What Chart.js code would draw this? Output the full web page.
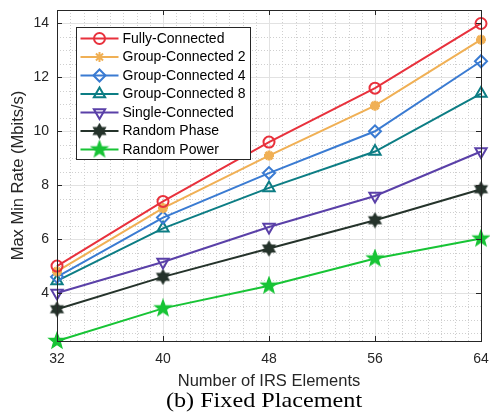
<!DOCTYPE html>
<html>
<head>
<meta charset="utf-8">
<script src="https://cdn.jsdelivr.net/npm/chart.js@4.4.1/dist/chart.umd.min.js"></script>
<style>
  html, body { margin: 0; padding: 0; background: #fff; }
  #wrap { width: 490px; height: 413px; }
</style>
</head>
<body>
<div id="wrap"><canvas id="chart"></canvas></div>
<script>
// data
const irsElements = [32, 40, 48, 56, 64];
const fullyConnected = [5.0, 7.4, 9.6, 11.6, 14.0];
const groupConnected2 = [4.8, 7.15, 9.1, 10.95, 13.4];
const groupConnected4 = [4.6, 6.8, 8.45, 10.0, 12.6];
const groupConnected8 = [4.45, 6.4, 7.9, 9.25, 11.4];
const singleConnected = [4.0, 5.15, 6.45, 7.6, 9.25];
const randomPhase = [3.4, 4.6, 5.65, 6.7, 7.85];
const randomPower = [2.22, 3.43, 4.27, 5.28, 6.02];

const xTicks = [32, 40, 48, 56, 64];
const yTicks = [4, 6, 8, 10, 12, 14];

const FONT = '"Liberation Sans", Arial, Helvetica, sans-serif';
const INK = '#262626';

// filled star markers (pentagram / hexagram) as little canvases
function starMarker(points, outer, innerRatio, color) {
  const size = Math.ceil(outer * 2 + 3);
  const c = document.createElement('canvas');
  c.width = c.height = size;
  const g = c.getContext('2d');
  g.translate(size / 2, size / 2);
  g.beginPath();
  for (let i = 0; i < points * 2; i++) {
    const r = i % 2 ? outer * innerRatio : outer;
    const a = -Math.PI / 2 + i * Math.PI / points;
    g.lineTo(r * Math.cos(a), r * Math.sin(a));
  }
  g.closePath();
  g.fillStyle = color;
  g.fill();
  g.strokeStyle = color;
  g.lineWidth = 1.2;
  g.stroke();
  return c;
}

const series = [
  { label: 'Fully-Connected', values: fullyConnected, color: '#E8313C', style: 'circle', radius: 5.5, fill: 'rgba(0,0,0,0)' },
  { label: 'Group-Connected 2', values: groupConnected2, color: '#F0B055', style: 'star', radius: 5, fill: '#F0B055', bw: 3 },
  { label: 'Group-Connected 4', values: groupConnected4, color: '#3A7BD2', style: 'rectRot', radius: 6, fill: 'rgba(0,0,0,0)' },
  { label: 'Group-Connected 8', values: groupConnected8, color: '#0C7D84', style: 'triangle', radius: 6.5, fill: 'rgba(0,0,0,0)' },
  { label: 'Single-Connected', values: singleConnected, color: '#5A40A8', style: 'triangle', radius: 6.5, fill: 'rgba(0,0,0,0)', rotation: 180 },
  { label: 'Random Phase', values: randomPhase, color: '#25332B', style: starMarker(6, 7, 0.58, '#25332B'), radius: 6, fill: '#25332B' },
  { label: 'Random Power', values: randomPower, color: '#17C435', style: starMarker(5, 8.5, 0.42, '#17C435'), radius: 7, fill: '#17C435' }
];

function hline(ctx, x1, y1, x2, y2) {
  ctx.beginPath();
  ctx.moveTo(x1, y1);
  ctx.lineTo(x2, y2);
  ctx.stroke();
}

const axesDecor = {
  id: 'axesDecor',
  beforeDatasetsDraw(chart) {
    const { ctx, chartArea: a, scales: { x, y } } = chart;
    ctx.save();
    // minor dotted grid
    ctx.strokeStyle = '#cfcfcf';
    ctx.lineWidth = 1;
    ctx.setLineDash([1, 2]);
    for (let v = 33; v < 64; v++) {
      if (v % 8 === 0) continue;
      const px = Math.round(x.getPixelForValue(v)) + 0.5;
      hline(ctx, px, a.top, px, a.bottom);
    }
    for (let v = 2.5; v < 14.5; v += 0.5) {
      if (v % 2 === 0) continue;
      const py = Math.round(y.getPixelForValue(v)) + 0.5;
      hline(ctx, a.left, py, a.right, py);
    }
    ctx.restore();
  },
  afterDatasetsDraw(chart) {
    const { ctx, chartArea: a, scales: { x, y } } = chart;
    ctx.save();
    // box + inward tick marks
    ctx.strokeStyle = INK;
    ctx.lineWidth = 1;
    ctx.strokeRect(Math.round(a.left) + 0.5, Math.round(a.top) + 0.5,
      Math.round(a.right - a.left), Math.round(a.bottom - a.top));
    xTicks.forEach(v => {
      const px = Math.round(x.getPixelForValue(v)) + 0.5;
      hline(ctx, px, a.bottom, px, a.bottom - 5);
      hline(ctx, px, a.top, px, a.top + 5);
    });
    yTicks.forEach(v => {
      const py = Math.round(y.getPixelForValue(v)) + 0.5;
      hline(ctx, a.left, py, a.left + 5, py);
      hline(ctx, a.right, py, a.right - 5, py);
    });

    // legend box inside the axes
    const lx = Math.round(a.left) + 19.5, ly = Math.round(a.top) + 17.5;
    const lw = 174, lh = 132;
    ctx.fillStyle = '#fff';
    ctx.fillRect(lx, ly, lw, lh);
    ctx.strokeStyle = INK;
    ctx.strokeRect(lx, ly, lw, lh);
    ctx.font = '14px ' + FONT;
    ctx.textBaseline = 'middle';
    chart.data.datasets.forEach((ds, i) => {
      const cy = ly + 11 + i * 18.5;
      ctx.strokeStyle = ds.borderColor;
      ctx.fillStyle = ds.pointBackgroundColor;
      ctx.lineWidth = 2;
      hline(ctx, lx + 4, cy, lx + 42, cy);
      Chart.helpers.drawPoint(ctx, {
        pointStyle: ds.pointStyle,
        radius: ds.pointRadius,
        rotation: ds.pointRotation,
        borderWidth: ds.pointBorderWidth
      }, lx + 23, cy);
      ctx.fillStyle = '#000';
      ctx.fillText(ds.label, lx + 46, cy + 0.5);
    });

    // caption below the figure (slightly widened serif, as in the paper)
    ctx.fillStyle = '#000';
    ctx.font = '22px "Liberation Serif", "Times New Roman", serif';
    ctx.textAlign = 'center';
    ctx.textBaseline = 'alphabetic';
    ctx.translate(264, 407);
    ctx.scale(1.1, 1);
    ctx.fillText('(b) Fixed Placement', 0, 0);
    ctx.restore();
  }
};

new Chart(document.getElementById('chart'), {
  type: 'line',
  data: {
    datasets: series.map(s => ({
      label: s.label,
      data: irsElements.map((n, i) => ({ x: n, y: s.values[i] })),
      borderColor: s.color,
      borderWidth: 2,
      pointStyle: s.style,
      pointRadius: s.radius,
      pointBorderColor: s.color,
      pointBackgroundColor: s.fill,
      pointBorderWidth: s.bw || 2,
      pointRotation: s.rotation || 0,
      tension: 0,
      clip: false
    }))
  },
  options: {
    responsive: true,
    maintainAspectRatio: false,
    animation: false,
    layout: { padding: { left: 0, top: 10, right: 8, bottom: 0 } },
    plugins: {
      legend: { display: false },
      tooltip: { enabled: false }
    },
    scales: {
      x: {
        type: 'linear',
        min: 32,
        max: 64,
        afterBuildTicks: s => { s.ticks = xTicks.map(v => ({ value: v })); },
        afterFit: s => { s.height = 72; s.paddingLeft = 0; s.paddingRight = 0; },
        grid: { color: '#e2e2e2', drawTicks: false },
        border: { display: false },
        ticks: { color: INK, font: { family: FONT, size: 14 }, padding: 10, maxRotation: 0 },
        title: {
          display: true,
          text: 'Number of IRS Elements',
          color: INK,
          font: { family: FONT, size: 16.5 },
          padding: { top: 0, bottom: 22 }
        }
      },
      y: {
        min: 2.22,
        max: 14.5,
        afterBuildTicks: s => { s.ticks = yTicks.map(v => ({ value: v })); },
        afterFit: s => { s.width = 57; s.paddingTop = 0; s.paddingBottom = 0; },
        grid: { color: '#e2e2e2', drawTicks: false },
        border: { display: false },
        ticks: { color: INK, font: { family: FONT, size: 14 }, padding: 8 },
        title: {
          display: true,
          text: 'Max Min Rate (Mbits/s)',
          color: INK,
          font: { family: FONT, size: 16.5 },
          padding: { top: 8.5, bottom: 0 }
        }
      }
    }
  },
  plugins: [axesDecor]
});
</script>
</body>
</html>
